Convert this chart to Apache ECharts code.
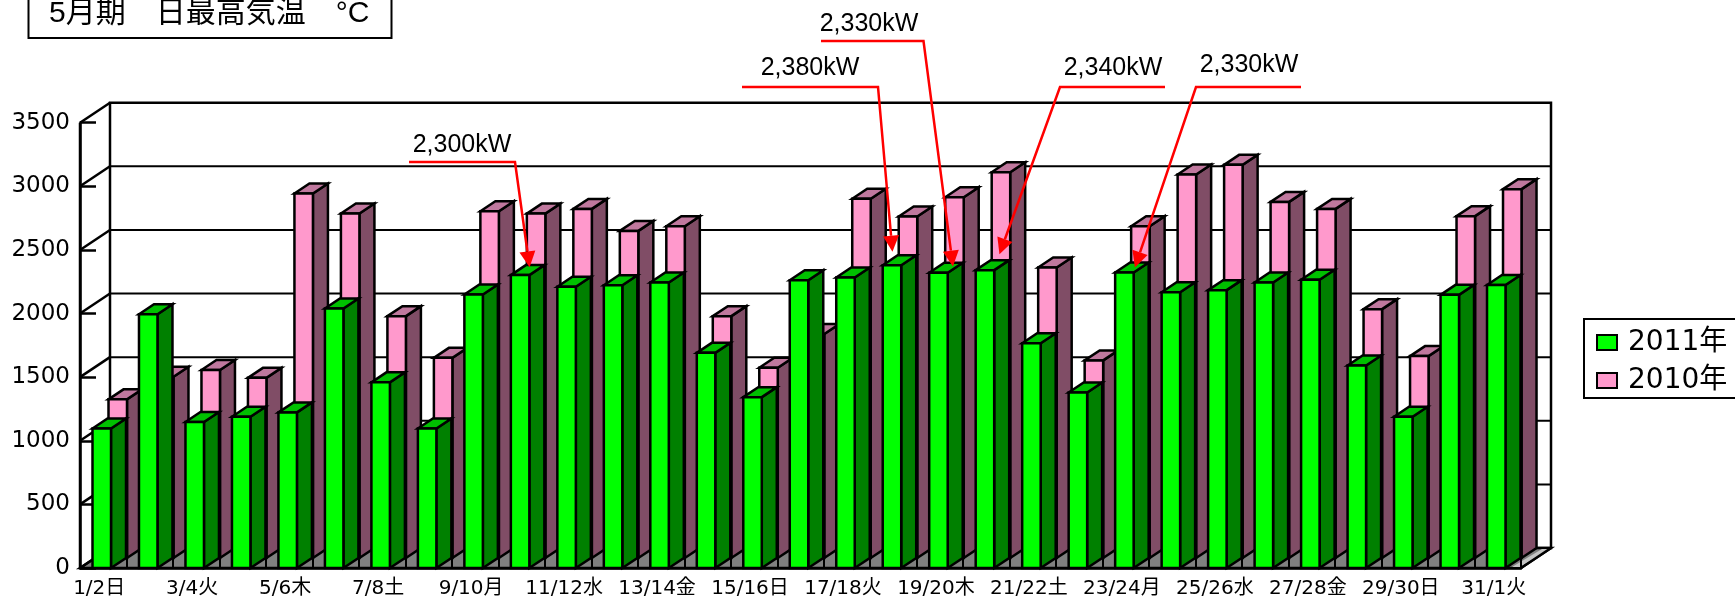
<!DOCTYPE html>
<html><head><meta charset="utf-8">
<style>html,body{margin:0;padding:0;background:#fff;overflow:hidden}#c{width:1735px;height:596px}</style>
<script src="https://cdn.jsdelivr.net/npm/echarts@6/dist/echarts.min.js"></script>
</head><body><div id="c"></div>
<script>
const categories = ['1/2日','2/3月','3/4火','4/5水','5/6木','6/7金','7/8土','8/9日','9/10月','10/11火','11/12水','12/13木','13/14金','14/15土','15/16日','16/17月','17/18火','18/19水','19/20木','20/21金','21/22土','22/23日','23/24月','24/25火','25/26水','26/27木','27/28金','28/29土','29/30日','30/31月','31/1火'];
const values2011 = [1097,1995,1147,1189,1223,2040,1459,1097,2150,2302,2210,2223,2244,1691,1343,2262,2283,2380,2320,2341,1767,1380,2322,2168,2184,2244,2265,1592,1189,2147,2225];
const values2010 = [1247,1424,1477,1416,2865,2708,1901,1573,2726,2707,2744,2571,2608,1901,1495,1760,2823,2684,2836,3032,2283,1553,2608,3014,3090,2799,2744,1956,1587,2687,2899];
const yTicks = [0,500,1000,1500,2000,2500,3000,3500];
const calloutTexts = ['2,300kW','2,380kW','2,330kW','2,340kW','2,330kW'];
const calloutDays = [9,17,18,19,22];
const calloutValues = [2300,2380,2330,2340,2330];

// layout of the leaders (pixels), kept apart from the data
const calloutLayout = [
  {tx:462, ty:145.5, x0:409,  y0:162, ex:515,  dx:8,  dy:-8},
  {tx:810, ty:68.5,  x0:742,  y0:87,  ex:878,  dx:-1, dy:-13.5},
  {tx:869, ty:24.5,  x0:821,  y0:41,  ex:923.5,dx:13, dy:-5},
  {tx:1113,ty:68.5,  x0:1165, y0:87,  ex:1060, dx:13, dy:-16},
  {tx:1249,ty:65,    x0:1301, y0:87,  ex:1196, dx:9,  dy:-4}
];
const DEPTH_X = 30, DEPTH_Y = 20;
const WIDE = '"DejaVu Sans","Noto Sans CJK JP",sans-serif';
const ARIAL = '"Liberation Sans","Noto Sans CJK JP",sans-serif';

function frame(params, api){
  const cs = params.coordSys, L = cs.x, R = cs.x + cs.width;
  const kids = [];
  const y0 = api.coord([0,0])[1], yTop = api.coord([0,3500])[1];
  const line = (a,b,w)=>({type:'line',shape:{x1:a[0],y1:a[1],x2:b[0],y2:b[1]},style:{stroke:'#000',lineWidth:w||2.5}});
  kids.push({type:'rect',shape:{x:L+DEPTH_X,y:yTop-DEPTH_Y,width:cs.width,height:y0-yTop},style:{fill:'#fff',stroke:'#000',lineWidth:2.5}});
  kids.push({type:'polygon',shape:{points:[[L,y0],[L+DEPTH_X,y0-DEPTH_Y],[R+DEPTH_X,y0-DEPTH_Y],[R,y0]]},style:{fill:'#808080',stroke:'#000',lineWidth:2.5}});
  kids.push({type:'polygon',shape:{points:[[R-9,y0-1],[R+DEPTH_X-9,y0-DEPTH_Y+1],[R+DEPTH_X-1,y0-DEPTH_Y+1],[R-1,y0-1]]},style:{fill:'#c4c4c4'}});
  yTicks.forEach(v=>{
    const y = api.coord([0,v])[1];
    if(v>0 && v<3500) kids.push(line([L+DEPTH_X,y-DEPTH_Y],[R+DEPTH_X,y-DEPTH_Y],2));
    kids.push(line([L,y],[L+DEPTH_X,y-DEPTH_Y]));
  });
  kids.push(line([L,yTop],[L,y0]));
  kids.push(line([R,y0],[R+DEPTH_X,y0-DEPTH_Y]));
  return {type:'group',children:kids};
}

function cuboid(shift, front, side, top){
  return function(params, api){
    const i = api.value(0), v = api.value(1);
    const t = api.coord([i,v]), b = api.coord([i,0]);
    const band = api.size([1,0])[0];
    const w = 18.5, dx = 15, dy = 10, left = t[0]-band/2+12.5;
    const x = left+shift[0], yT = t[1]-shift[1], yB = b[1]-shift[1];
    const st = f=>({fill:f,stroke:'#000',lineWidth:2.5,lineJoin:'miter'});
    return {type:'group',children:[
      {type:'polygon',shape:{points:[[x+w,yT],[x+w+dx,yT-dy],[x+w+dx,yB-dy],[x+w,yB]]},style:st(side)},
      {type:'polygon',shape:{points:[[x,yT],[x+dx,yT-dy],[x+w+dx,yT-dy],[x+w,yT]]},style:st(top)},
      {type:'rect',shape:{x:x,y:yT,width:w,height:yB-yT},style:st(front)}
    ]};
  };
}

function callout(params, api){
  const n = params.dataIndex, p = calloutLayout[n];
  const c = api.coord([calloutDays[n],calloutValues[n]]);
  const tip = [c[0]+p.dx,c[1]+p.dy];
  const ux = tip[0]-p.ex, uy = tip[1]-p.y0, len = Math.hypot(ux,uy), a = ux/len, b = uy/len;
  const hl = 16, hw = 8, base = [tip[0]-a*hl,tip[1]-b*hl];
  return {type:'group',children:[
    {type:'polyline',shape:{points:[[p.x0,p.y0],[p.ex,p.y0],base]},style:{stroke:'#ff0000',lineWidth:2.5,fill:null}},
    {type:'polygon',shape:{points:[tip,[base[0]-b*hw,base[1]+a*hw],[base[0]+b*hw,base[1]-a*hw]]},style:{fill:'#ff0000'}},
    {type:'text',style:{x:p.tx,y:p.ty,text:calloutTexts[n],font:'25px '+ARIAL,fill:'#000',textAlign:'center',textVerticalAlign:'middle'}}
  ]};
}

const chart = echarts.init(document.getElementById('c'),null,{renderer:'canvas'});
chart.setOption({
  animation:false,
  backgroundColor:'#fff',
  title:{text:'5月期　日最高気温　°C',left:49,top:-1,padding:0,textStyle:{fontSize:30,fontWeight:'normal',fontFamily:ARIAL,color:'#000'}},
  graphic:[{type:'rect',z:-1,shape:{x:28.5,y:-4,width:363,height:42},style:{fill:'#fff',stroke:'#000',lineWidth:2}}],
  legend:{
    data:['2011年','2010年'],orient:'vertical',left:1584,top:319,
    icon:'rect',itemWidth:20,itemHeight:15,itemGap:10,
    padding:[9.5,40,3.5,12],borderColor:'#000',borderWidth:2,backgroundColor:'#fff',
    itemStyle:{borderColor:'#000',borderWidth:2},
    textStyle:{fontFamily:WIDE,fontSize:28,lineHeight:18,color:'#000',padding:[0,0,0,6]},selectedMode:false
  },
  grid:{left:80,right:214,top:122.7,bottom:28,outerBoundsMode:'none'},
  xAxis:{type:'category',data:categories,boundaryGap:true,
    axisLine:{lineStyle:{color:'#000',width:2.5}},
    axisTick:{show:true,inside:true,length:12,interval:0,lineStyle:{color:'#000',width:2}},
    axisLabel:{interval:1,hideOverlap:false,margin:11,color:'#000',fontFamily:WIDE,fontSize:20,padding:[0,8,0,0]},
    splitLine:{show:false}},
  yAxis:{type:'value',min:0,max:3500,interval:500,
    axisLine:{show:true,lineStyle:{color:'#000',width:2.5}},
    axisTick:{show:true,inside:true,length:16,lineStyle:{color:'#000',width:2.5}},
    axisLabel:{margin:10,color:'#000',fontFamily:WIDE,fontSize:23,padding:[14,0,0,0],formatter:v=>String(v)},
    splitLine:{show:false}},
  series:[
    {type:'custom',name:'frame',z:-5,silent:true,renderItem:frame,data:[[0,0]],encode:{x:0,y:1}},
    {type:'custom',name:'2010年',z:3,renderItem:cuboid([16,10],'#ff99cc','#804d66','#c0789e'),itemStyle:{color:'#ff99cc'},
      data:values2010.map((v,i)=>[i,v]),encode:{x:0,y:1}},
    {type:'custom',name:'2011年',z:4,renderItem:cuboid([0,0],'#00ff00','#008000','#00c000'),itemStyle:{color:'#00ff00'},
      data:values2011.map((v,i)=>[i,v]),encode:{x:0,y:1}},
    {type:'custom',name:'callouts',z:10,silent:true,renderItem:callout,data:calloutDays.map((d,i)=>[d,calloutValues[i]]),encode:{x:0,y:1}}
  ]
});
</script></body></html>
